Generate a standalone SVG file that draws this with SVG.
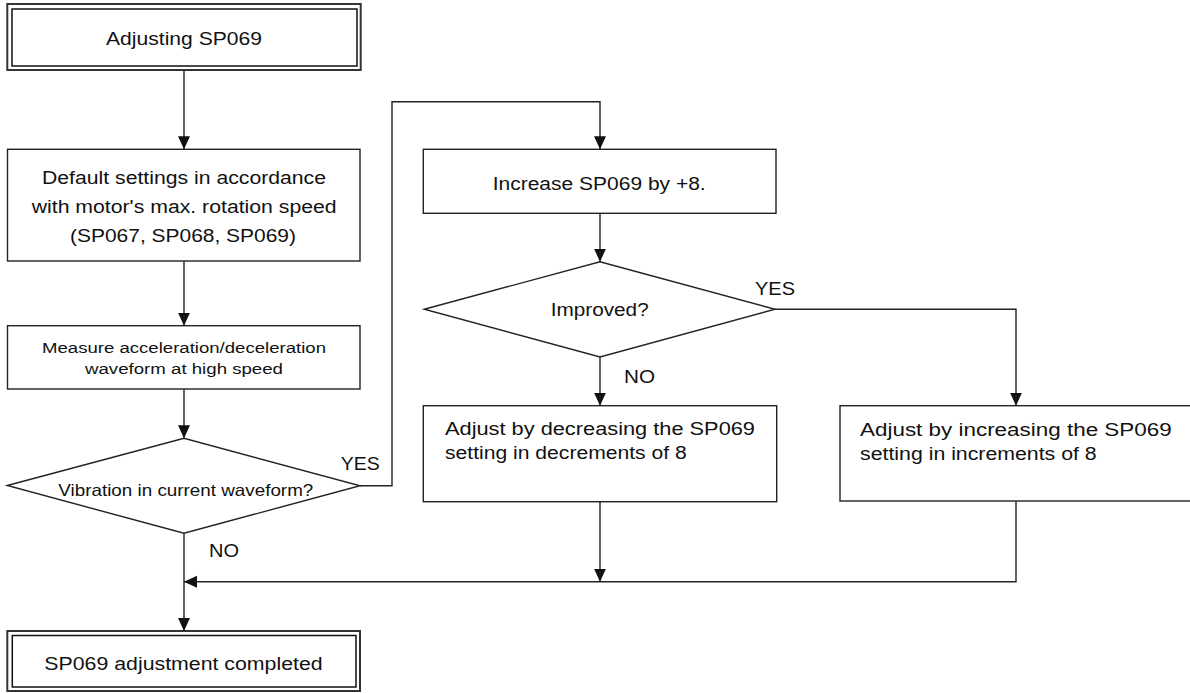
<svg xmlns="http://www.w3.org/2000/svg" width="1190" height="693" viewBox="0 0 1190 693">
<style>
  .box { fill: #fff; stroke: #222; stroke-width: 1.4; }
  .outer { fill: #fff; stroke: #333; stroke-width: 2; }
  .inner { fill: none; stroke: #111; stroke-width: 1.5; }
  .line { fill: none; stroke: #222; stroke-width: 1.4; }
  text { font-family: "Liberation Sans", Arial, sans-serif; font-size: 17.5px; fill: #111; }
  .sm { font-size: 15.5px; }
</style>
<defs>
  <marker id="arrow" markerUnits="userSpaceOnUse" markerWidth="14" markerHeight="13" refX="13" refY="6" orient="auto">
    <path d="M0,0 L13,6 L0,12 z" fill="#111"/>
  </marker>
</defs>

<g id="connectors">
  <path class="line" d="M184,70 L184,149.3" marker-end="url(#arrow)"/>
  <path class="line" d="M184,261 L184,325.7" marker-end="url(#arrow)"/>
  <path class="line" d="M184,389 L184,438.3" marker-end="url(#arrow)"/>
  <path class="line" d="M360,485.7 L392,485.7 L392,101.7 L600,101.7 L600,149.3" marker-end="url(#arrow)"/>
  <path class="line" d="M600,213.3 L600,261.7" marker-end="url(#arrow)"/>
  <path class="line" d="M600,357 L600,405.7" marker-end="url(#arrow)"/>
  <path class="line" d="M775,309.3 L1016,309.3 L1016,405.7" marker-end="url(#arrow)"/>
  <path class="line" d="M600,501.7 L600,581.7" marker-end="url(#arrow)"/>
  <path class="line" d="M1016,501 L1016,581.7 L184,581.7" marker-end="url(#arrow)"/>
  <path class="line" d="M184,533.3 L184,631" marker-end="url(#arrow)"/>
  <text x="340.7" y="470" textLength="39" lengthAdjust="spacingAndGlyphs">YES</text>
  <text x="209" y="557" textLength="30" lengthAdjust="spacingAndGlyphs">NO</text>
  <text x="755" y="295" textLength="40" lengthAdjust="spacingAndGlyphs">YES</text>
  <text x="624" y="383" textLength="31" lengthAdjust="spacingAndGlyphs">NO</text>
</g>

<g id="start">
  <rect class="outer" x="7.3" y="4" width="353.4" height="66"/>
  <rect class="inner" x="12" y="9" width="345" height="57"/>
  <text x="106" y="45" textLength="156" lengthAdjust="spacingAndGlyphs">Adjusting SP069</text>
</g>

<g id="defaults">
  <rect class="box" x="7.5" y="149.3" width="352.5" height="111.7"/>
  <text x="42" y="184.3" textLength="284" lengthAdjust="spacingAndGlyphs">Default settings in accordance</text>
  <text x="31.7" y="213.3" textLength="305" lengthAdjust="spacingAndGlyphs">with motor's max. rotation speed</text>
  <text x="70" y="241.7" textLength="226" lengthAdjust="spacingAndGlyphs">(SP067, SP068, SP069)</text>
</g>

<g id="measure">
  <rect class="box" x="7.5" y="325.7" width="352.5" height="63.3"/>
  <text class="sm" x="42" y="352.7" textLength="284" lengthAdjust="spacingAndGlyphs">Measure acceleration/deceleration</text>
  <text class="sm" x="85" y="374" textLength="198" lengthAdjust="spacingAndGlyphs">waveform at high speed</text>
</g>

<g id="vibration">
  <polygon class="box" points="7.3,485.5 184,438.3 360,485.7 184,533.3"/>
  <text x="58.3" y="496" textLength="255" lengthAdjust="spacingAndGlyphs" style="font-size:16.5px">Vibration in current waveform?</text>
</g>

<g id="increase8">
  <rect class="box" x="423.3" y="149.3" width="352.7" height="64"/>
  <text x="492.7" y="190" textLength="213" lengthAdjust="spacingAndGlyphs">Increase SP069 by +8.</text>
</g>

<g id="improved">
  <polygon class="box" points="424.3,309.3 600,261.7 775,309.3 600,357"/>
  <text x="550.7" y="316" textLength="98" lengthAdjust="spacingAndGlyphs">Improved?</text>
</g>

<g id="decrease">
  <rect class="box" x="423.3" y="405.7" width="353.4" height="96"/>
  <text x="445" y="435" textLength="310" lengthAdjust="spacingAndGlyphs">Adjust by decreasing the SP069</text>
  <text x="445" y="459.3" textLength="241.7" lengthAdjust="spacingAndGlyphs">setting in decrements of 8</text>
</g>

<g id="increase">
  <rect class="box" x="840" y="405.7" width="360" height="95.3"/>
  <text x="860" y="435.7" textLength="311.7" lengthAdjust="spacingAndGlyphs">Adjust by increasing the SP069</text>
  <text x="860" y="460" textLength="236.7" lengthAdjust="spacingAndGlyphs">setting in increments of 8</text>
</g>

<g id="end">
  <rect class="outer" x="7.3" y="631" width="352.7" height="60"/>
  <rect class="inner" x="12.3" y="635.5" width="343.7" height="51.5"/>
  <text x="44.3" y="670" textLength="278.4" lengthAdjust="spacingAndGlyphs">SP069 adjustment completed</text>
</g>
</svg>
